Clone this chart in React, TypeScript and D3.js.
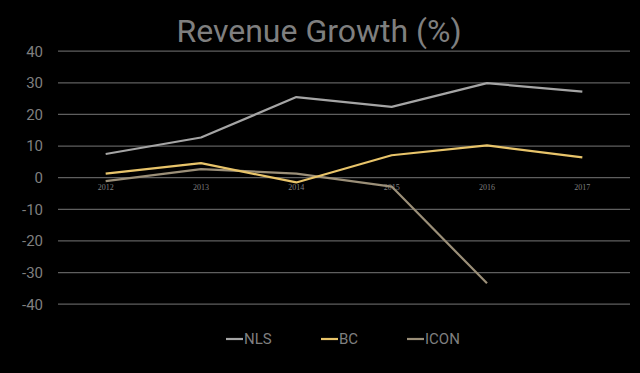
import { useRef, useEffect } from "react";
import * as d3 from "d3";

const years = ["2012", "2013", "2014", "2015", "2016", "2017"];
const nls = [7.5, 12.7, 25.5, 22.4, 29.9, 27.2];
const bc = [1.3, 4.6, -1.5, 7.1, 10.2, 6.4];
const icon = [-1.1, 2.7, 1.3, -2.8, -33.4, null];
const yTicks = [40, 30, 20, 10, 0, -10, -20, -30, -40];

const seriesNames = ["NLS", "BC", "ICON"];
const seriesColors = ["#a5a5a5", "#e8c46a", "#9b8f78"];

export default function App() {
  const svgRef = useRef<SVGSVGElement>(null);

  useEffect(() => {
    if (!svgRef.current) return;
    const width = 640;
    const height = 373;
    const svg = d3.select(svgRef.current);
    svg.selectAll("*").remove();

    svg.append("rect").attr("width", width).attr("height", height).attr("fill", "#000");

    const x = d3.scaleBand().domain(years).range([58, 630]);
    const y = d3.scaleLinear().domain([-40, 40]).range([304.2, 51.2]);

    // title
    svg.append("text")
      .attr("x", 319)
      .attr("y", 42)
      .attr("text-anchor", "middle")
      .attr("fill", "#7f7f7f")
      .attr("font-size", "32px")
      .attr("font-family", "'Roboto', sans-serif")
      .text("Revenue Growth (%)");

    // gridlines
    svg.append("g")
      .selectAll("line")
      .data(yTicks)
      .join("line")
      .attr("x1", 58)
      .attr("x2", 630)
      .attr("y1", (d) => y(d))
      .attr("y2", (d) => y(d))
      .attr("stroke", "#5f5f5f")
      .attr("stroke-width", 1.3);

    // y labels
    svg.append("g")
      .selectAll("text")
      .data(yTicks)
      .join("text")
      .attr("x", 43)
      .attr("y", (d) => y(d))
      .attr("dy", "0.36em")
      .attr("text-anchor", "end")
      .attr("fill", "#7f7f7f")
      .attr("font-size", "15px")
      .attr("font-family", "'Roboto', sans-serif")
      .text((d) => `${d}`);

    // x labels at zero line
    svg.append("g")
      .selectAll("text")
      .data(years)
      .join("text")
      .attr("x", (d) => (x(d) as number) + x.bandwidth() / 2)
      .attr("y", y(0) + 12)
      .attr("text-anchor", "middle")
      .attr("fill", "#7f7f7f")
      .attr("font-size", "8px")
      .attr("font-family", "'Liberation Serif', serif")
      .text((d) => d);

    const line = d3.line<number | null>()
      .defined((d) => d !== null)
      .x((_, i) => (x(years[i]) as number) + x.bandwidth() / 2)
      .y((d) => y(d as number));

    const data = [nls, bc, icon];
    // ICON first, then BC, NLS on top
    [2, 1, 0].forEach((k) => {
      svg.append("path")
        .datum(data[k] as (number | null)[])
        .attr("d", line)
        .attr("fill", "none")
        .attr("stroke", seriesColors[k])
        .attr("stroke-width", 2.2)
        .attr("stroke-linejoin", "round");
    });

    // legend
    const legendX = [226, 321, 407];
    const lg = svg.append("g");
    seriesNames.forEach((name, i) => {
      lg.append("line")
        .attr("x1", legendX[i])
        .attr("x2", legendX[i] + 17)
        .attr("y1", 339)
        .attr("y2", 339)
        .attr("stroke", seriesColors[i])
        .attr("stroke-width", 2.2);
      lg.append("text")
        .attr("x", legendX[i] + 18)
        .attr("y", 339)
        .attr("dy", "0.36em")
        .attr("fill", "#7f7f7f")
        .attr("font-size", "15px")
        .attr("font-family", "'Roboto', sans-serif")
        .text(name);
    });
  }, []);

  return (
    <div style={{ position: "fixed", left: 0, top: 0 }}>
      <svg ref={svgRef} width={640} height={373} style={{ display: "block" }} />
    </div>
  );
}
